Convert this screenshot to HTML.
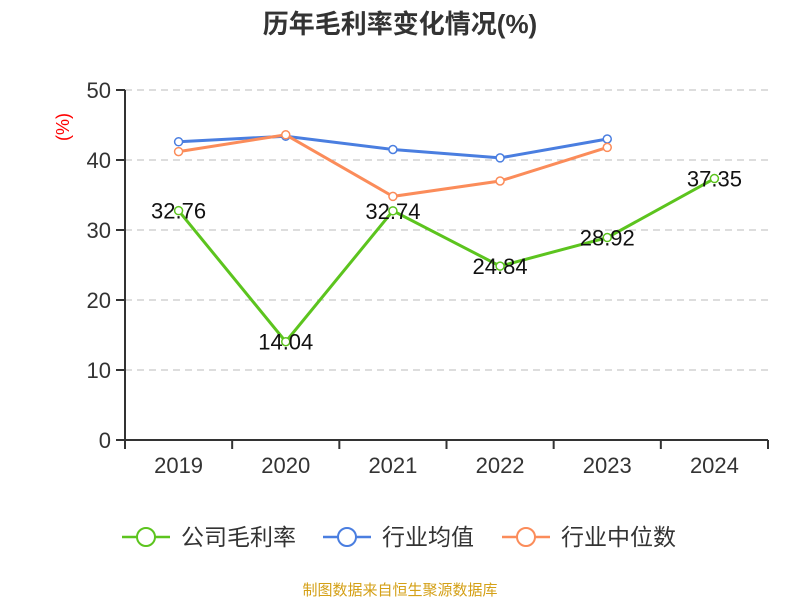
<!DOCTYPE html>
<html><head><meta charset="utf-8"><style>
body{margin:0;background:#fff;}
svg text{font-family:"Liberation Sans","Noto Sans CJK SC",sans-serif;}
</style></head><body>
<svg width="800" height="600">
<text x="400" y="33" text-anchor="middle" font-size="26" font-weight="bold" fill="#333">历年毛利率变化情况(%)</text>
<text transform="translate(69,127) rotate(-90)" text-anchor="middle" font-size="18" fill="#f00">(%)</text>
<g id="grid"></g><g id="series"></g>
<g>
<g><line x1="122" y1="537" x2="170" y2="537" stroke="#5cc41e" stroke-width="2.5"/><circle cx="146" cy="537" r="9" fill="#fff" stroke="#5cc41e" stroke-width="2"/><text x="181" y="545" font-size="23" fill="#333">公司毛利率</text></g>
<g><line x1="323" y1="537" x2="371" y2="537" stroke="#4a7ee0" stroke-width="2.5"/><circle cx="347" cy="537" r="9" fill="#fff" stroke="#4a7ee0" stroke-width="2"/><text x="382" y="545" font-size="23" fill="#333">行业均值</text></g>
<g><line x1="502" y1="537" x2="550" y2="537" stroke="#fb8c5a" stroke-width="2.5"/><circle cx="526" cy="537" r="9" fill="#fff" stroke="#fb8c5a" stroke-width="2"/><text x="561" y="545" font-size="23" fill="#333">行业中位数</text></g>
</g>
<text x="400" y="595" text-anchor="middle" font-size="15" fill="#d4a017">制图数据来自恒生聚源数据库</text>
</svg>
<script>
const categories=["2019","2020","2021","2022","2023","2024"];
const company=[32.76,14.04,32.74,24.84,28.92,37.35];
const industryAvg=[42.6,43.4,41.5,40.3,43.0];
const industryMedian=[41.2,43.6,34.8,37.0,41.8];
const yTicks=[0,10,20,30,40,50];
const NS="http://www.w3.org/2000/svg";
const x0=125,x1=768,yb=440,yt=90,yMax=50;
const bw=(x1-x0)/categories.length;
const X=i=>x0+bw*(i+0.5);
const Y=v=>yb-(v/yMax)*(yb-yt);
function mk(p,t,a){const e=document.createElementNS(NS,t);for(const k in a)e.setAttribute(k,a[k]);p.appendChild(e);return e;}
const g=document.getElementById('grid');
yTicks.forEach(v=>{
 if(v>0){const l=mk(g,'line',{x1:x0,x2:x1,y1:Y(v),y2:Y(v),stroke:'#bbb','stroke-dasharray':'7,5'});
 
 }
 mk(g,'line',{x1:x0-9,x2:x0,y1:Y(v),y2:Y(v),stroke:'#333','stroke-width':2});
 const t=mk(g,'text',{x:x0-14,y:Y(v)+8,'text-anchor':'end','font-size':22,fill:'#333'});t.textContent=v;
 
 
});
mk(g,'line',{x1:x0,x2:x0,y1:yt,y2:yb,stroke:'#333','stroke-width':2});
mk(g,'line',{x1:x0,x2:x1,y1:yb,y2:yb,stroke:'#333','stroke-width':2});
for(let i=0;i<=categories.length;i++)mk(g,'line',{x1:x0+bw*i,x2:x0+bw*i,y1:yb,y2:yb+9,stroke:'#333','stroke-width':2});
categories.forEach((c,i)=>{const t=mk(g,'text',{x:X(i),y:473,'text-anchor':'middle','font-size':22,fill:'#333'});t.textContent=c;
 
 });
const s=document.getElementById('series');
function draw(data,color,name,labels){
 const grp=mk(s,'g',{});
 
 
 mk(grp,'polyline',{points:data.map((v,i)=>X(i)+','+Y(v)).join(' '),fill:'none',stroke:color,'stroke-width':3});
 data.forEach((v,i)=>{const c=mk(grp,'circle',{cx:X(i),cy:Y(v),r:4,fill:'#fff',stroke:color,'stroke-width':1.5});
  
  
  if(labels){const t=mk(grp,'text',{x:X(i),y:Y(v)+8,'text-anchor':'middle','font-size':22,fill:'#111'});t.textContent=v.toFixed(2);
   
   }
 });
}
draw(industryAvg,'#4a7ee0','industry-avg-line',false);
draw(industryMedian,'#fb8c5a','industry-median-line',false);
draw(company,'#5cc41e','company-margin-line',true);
</script>
</body></html>
